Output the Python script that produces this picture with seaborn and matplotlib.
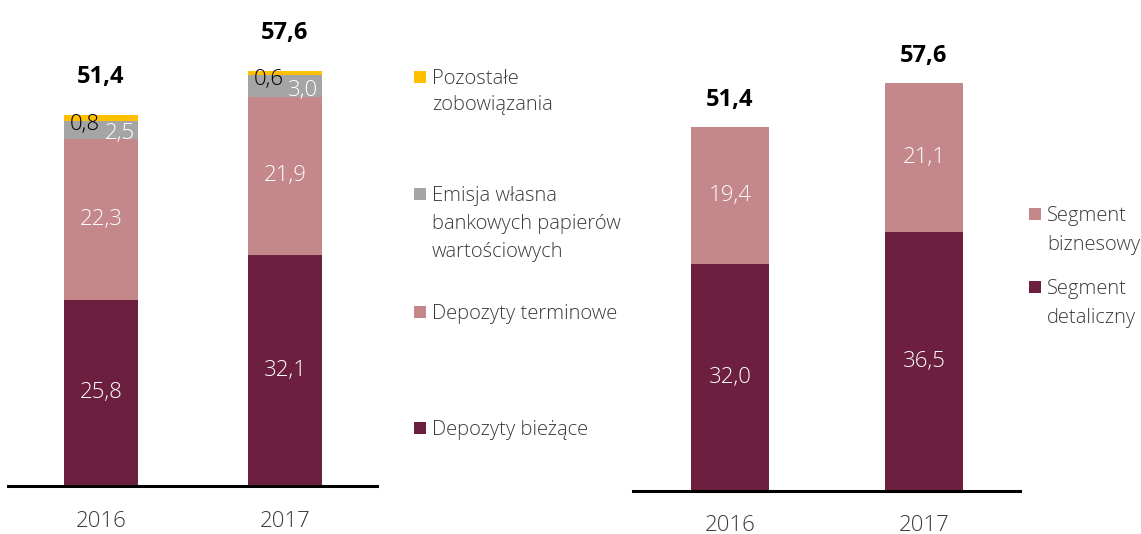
import matplotlib
matplotlib.use("Agg")
import matplotlib.pyplot as plt
import seaborn as sns
import numpy as np
import pandas as pd
from matplotlib.patches import Rectangle

# ---- data ----
years = ["2016", "2017"]
left_series = ["Depozyty bieżące", "Depozyty terminowe",
               "Emisja własna\nbankowych papierów\nwartościowych",
               "Pozostałe\nzobowiązania"]
dep_biezace = [25.8, 32.1]
dep_terminowe = [22.3, 21.9]
emisja = [2.5, 3.0]
pozostale = [0.8, 0.6]
left_totals = [51.4, 57.6]

right_series = ["Segment\ndetaliczny", "Segment\nbiznesowy"]
detaliczny = [32.0, 36.5]
biznesowy = [19.4, 21.1]
right_totals = [51.4, 57.6]

DARK = "#6C1F3F"
PINK = "#C4878A"
GRAY = "#A5A5A5"
YELLOW = "#FFC000"
TXT = "#3A3A3A"

sns.set_theme(style="white")
plt.rcParams["font.family"] = ["Open Sans", "DejaVu Sans"]

W, H = 1141, 534
fig = plt.figure(figsize=(W / 100, H / 100), dpi=100)

def px_ax(x0, x1, ybase, ytop=0):
    return fig.add_axes([x0 / W, (H - ybase) / H, (x1 - x0) / W, (ybase - ytop) / H])

def fx(x):
    return x / W

def fy(y):
    return (H - y) / H

def fmt(v):
    return f"{v:.1f}".replace(".", ",")

LBL = 16
TOT = 17

# ---- left chart ----
axL = px_ax(8, 377, 486)
left_stack = [dep_biezace, dep_terminowe, emisja, pozostale]
left_colors = [DARK, PINK, GRAY, YELLOW]
cum = np.cumsum(np.array(left_stack), axis=0)
for i in range(len(left_stack) - 1, -1, -1):
    df = pd.DataFrame({"year": years, "v": cum[i]})
    sns.barplot(data=df, x="year", y="v", color=left_colors[i], width=0.40,
                saturation=1, ax=axL, edgecolor="none", linewidth=0)
axL.set_xlim(-0.505, 1.5)
axL.set_ylim(0, 486 / 7.21)

for j in range(2):
    for i in range(2):
        base = cum[i - 1][j] if i > 0 else 0
        axL.text(j, base + left_stack[i][j] / 2, fmt(left_stack[i][j]),
                 ha="center", va="center", color="white", fontsize=LBL, fontweight="light")
    axL.text(j - 0.09, cum[3][j] - 1.2, fmt(pozostale[j]),
             ha="center", va="center", color="black", fontsize=LBL, fontweight="light")
    axL.text(j + 0.10, cum[1][j] + 0.8, fmt(emisja[j]),
             ha="center", va="center", color="white", fontsize=LBL, fontweight="light")
    axL.text(j, left_totals[j] + 3.6, fmt(left_totals[j]),
             ha="center", va="bottom", color="black", fontsize=TOT, fontweight="bold")

# ---- right chart ----
axR = px_ax(633, 1020, 491)
right_stack = [detaliczny, biznesowy]
right_colors = [DARK, PINK]
cumR = np.cumsum(np.array(right_stack), axis=0)
for i in range(len(right_stack) - 1, -1, -1):
    df = pd.DataFrame({"year": years, "v": cumR[i]})
    sns.barplot(data=df, x="year", y="v", color=right_colors[i], width=0.40,
                saturation=1, ax=axR, edgecolor="none", linewidth=0)
axR.set_xlim(-0.5, 1.495)
axR.set_ylim(0, 491 / 7.09)
for j in range(2):
    axR.text(j, detaliczny[j] / 2, fmt(detaliczny[j]),
             ha="center", va="center", color="white", fontsize=LBL, fontweight="light")
    axR.text(j, detaliczny[j] + biznesowy[j] / 2, fmt(biznesowy[j]),
             ha="center", va="center", color="white", fontsize=LBL, fontweight="light")
    axR.text(j, right_totals[j] + 2.0, fmt(right_totals[j]),
             ha="center", va="bottom", color="black", fontsize=TOT, fontweight="bold")

for ax, pad in ((axL, 18), (axR, 17)):
    ax.set_xlabel("")
    ax.set_ylabel("")
    ax.set_yticks([])
    for s in ("top", "right", "left"):
        ax.spines[s].set_visible(False)
    ax.spines["bottom"].set_color("black")
    ax.spines["bottom"].set_linewidth(2.2)
    ax.tick_params(axis="x", length=0, pad=pad, labelsize=16, labelcolor=TXT)
    for lbl in ax.get_xticklabels():
        lbl.set_fontweight("light")
    ax.set_facecolor("none")

# ---- legends (manual, to match uneven placement) ----
def legend_item(xsq, ysq, color, text, step=28, size=12):
    fig.patches.append(Rectangle((fx(xsq), fy(ysq + size / 2)), size / W, size / H,
                                 transform=fig.transFigure, facecolor=color, edgecolor="none"))
    for k, line in enumerate(text.split("\n")):
        fig.text(fx(xsq + size + 6), fy(ysq + 2 + k * step), line, ha="left", va="center",
                 color=TXT, fontsize=14.5, fontweight="light")

legend_item(414, 77, YELLOW, left_series[3], step=26)
legend_item(414, 194, GRAY, left_series[2])
legend_item(414, 312, PINK, left_series[1])
legend_item(414, 428, DARK, left_series[0])

legend_item(1029, 214, PINK, right_series[1], step=29)
legend_item(1029, 287, DARK, right_series[0], step=29)

fig.savefig("out.png", dpi=100)
